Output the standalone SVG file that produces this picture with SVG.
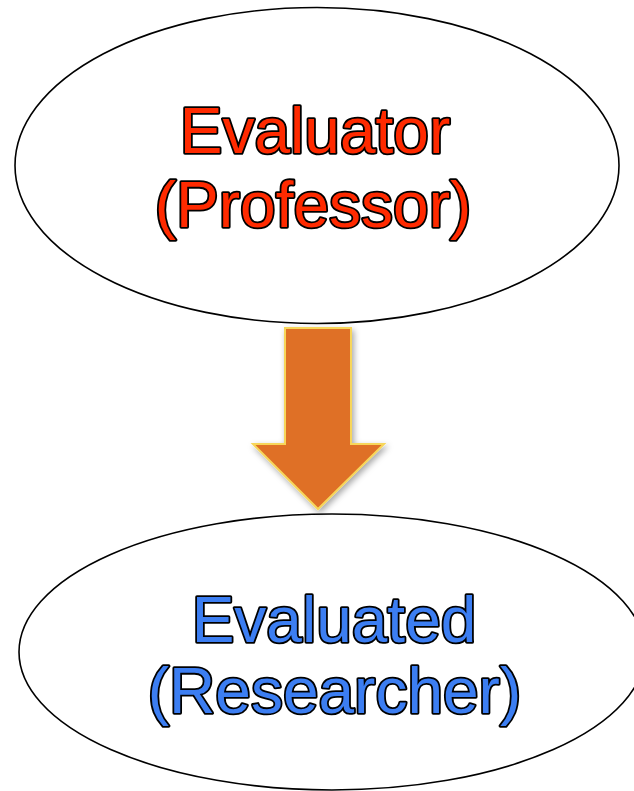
<svg xmlns="http://www.w3.org/2000/svg" width="634" height="791" viewBox="0 0 634 791">
  <style>
    .node { fill: #FFFFFF; stroke: #000000; stroke-width: 1.6; }
    .lbl { font-family: "Liberation Sans", Arial, sans-serif; font-size: 64px; text-anchor: middle; stroke: #000000; stroke-width: 3.6; stroke-linejoin: round; paint-order: stroke; }
    .red { fill: #FF2A00; }
    .blue { fill: #3C7EF2; }
    .arrow { fill: #DF7027; stroke: #F7D65A; stroke-width: 2; stroke-linejoin: miter; }
  </style>
  <defs>
    <filter id="shadow" x="-20%" y="-20%" width="150%" height="150%">
      <feDropShadow dx="2" dy="3" stdDeviation="3" flood-color="#000000" flood-opacity="0.35"/>
    </filter>
  </defs>
  <rect width="634" height="791" fill="#FFFFFF"/>
  <g id="evaluator">
    <ellipse class="node" cx="317" cy="165.5" rx="302" ry="158"/>
    <text class="lbl red" x="315" y="153">Evaluator</text>
    <text class="lbl red" x="313" y="227">(Professor)</text>
  </g>
  <g id="evaluated">
    <ellipse class="node" cx="332" cy="652" rx="313" ry="138"/>
    <text class="lbl blue" x="334" y="642">Evaluated</text>
    <text class="lbl blue" x="334.5" y="713">(Researcher)</text>
  </g>
  <g id="connectors">
    <polygon class="arrow" filter="url(#shadow)" points="285,328 351,328 351,444 384,444 318,509 253,444 285,444"/>
  </g>
</svg>
